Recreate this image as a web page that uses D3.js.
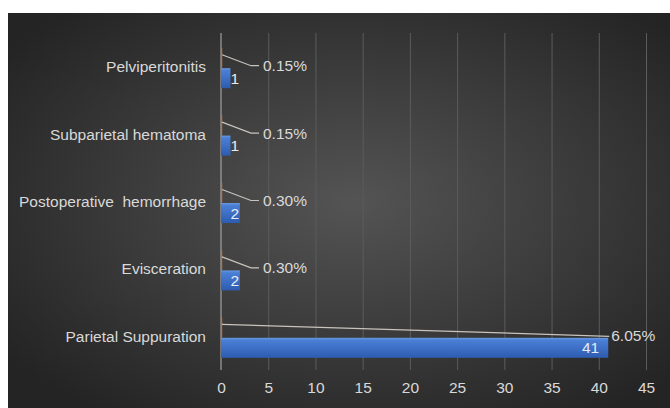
<!DOCTYPE html>
<meta charset="utf-8">
<style>
body { margin: 0; background: #fff; }
svg { display: block; }
text {
  font-family: 'Liberation Sans', 'DejaVu Sans', sans-serif;
  font-size: 15.5px;
  fill: #d9d9d9;
}
.cat-label { text-anchor: end; white-space: pre; }
.grid line { stroke: #5c5c5c; stroke-width: 1px; }
.grid path { stroke: none; }
.axis path, .axis line { stroke: none; }
.zero-line { stroke: #b5b5b5; stroke-width: 1px; }
.leader { fill: none; stroke: #c9c3bd; stroke-width: 1.2px; }
.pct-bar { fill: #c8743a; opacity: 0.75; }
.val-label { fill: #e6ecf5; text-anchor: end; }
</style>
<body>
<svg width="670" height="408"></svg>
<script src="https://d3js.org/d3.v7.min.js"></script>
<script>
// values
var categories = ["Pelviperitonitis", "Subparietal hematoma", "Postoperative  hemorrhage", "Evisceration", "Parietal Suppuration"];
var counts = [1, 1, 2, 2, 41];
var percents = [0.0015, 0.0015, 0.0030, 0.0030, 0.0605];
var xTicks = [0, 5, 10, 15, 20, 25, 30, 35, 40, 45];

var data = categories.map(function(c, i) {
  return {cat: c, count: counts[i], pct: percents[i]};
});

var svg = d3.select("svg");
var defs = svg.append("defs");

// background
var bg = defs.append("radialGradient").attr("id", "bg")
    .attr("cx", "52%").attr("cy", "48%").attr("r", "65%");
bg.append("stop").attr("offset", "0%").attr("stop-color", "#545454");
bg.append("stop").attr("offset", "100%").attr("stop-color", "#242424");

var bar = defs.append("linearGradient").attr("id", "bar")
    .attr("x1", 0).attr("y1", 0).attr("x2", 0).attr("y2", 1);
bar.append("stop").attr("offset", "0%").attr("stop-color", "#6b98e3");
bar.append("stop").attr("offset", "12%").attr("stop-color", "#4a7fd6");
bar.append("stop").attr("offset", "100%").attr("stop-color", "#2d5cb0");

svg.append("rect")
    .attr("x", 8).attr("y", 13)
    .attr("width", 662).attr("height", 395)
    .attr("fill", "url(#bg)");

var x = d3.scaleLinear().domain([0, 45]).range([221, 646]);
var y = d3.scaleBand().domain(categories).range([33, 370]);

// vertical gridlines
svg.append("g")
    .attr("class", "grid")
    .attr("transform", "translate(0,370)")
    .call(d3.axisBottom(x).tickValues(xTicks.slice(1)).tickSize(-(370 - 33)).tickFormat(""));

// tick labels
svg.append("g")
    .attr("class", "axis")
    .attr("transform", "translate(0,378)")
    .call(d3.axisBottom(x).tickValues(xTicks).tickSize(0).tickPadding(4))
    .selectAll("text")
    .style("font-size", "15.5px")
    .style("font-family", "'Liberation Sans', sans-serif")
    .attr("fill", "#d9d9d9");

// zero axis line
svg.append("line")
    .attr("class", "zero-line")
    .attr("x1", x(0)).attr("x2", x(0))
    .attr("y1", 33).attr("y2", 370);

// category labels
svg.selectAll(".cat-label")
    .data(data)
  .enter().append("text")
    .attr("class", "cat-label")
    .attr("x", x(0) - 15)
    .attr("y", function(d) { return y(d.cat) + y.bandwidth() / 2; })
    .attr("dy", "0.35em")
    .text(function(d) { return d.cat; });

var barH = 20;
var mid = function(d) { return y(d.cat) + y.bandwidth() / 2; };

// percentage series (near-zero bars)
svg.selectAll(".pct-bar")
    .data(data)
  .enter().append("rect")
    .attr("class", "pct-bar")
    .attr("x", x(0))
    .attr("y", function(d) { return mid(d) - barH + 1; })
    .attr("width", function(d) { return Math.max(x(d.pct) - x(0), 1.3); })
    .attr("height", barH);

// count bars
svg.selectAll(".count-bar")
    .data(data)
  .enter().append("rect")
    .attr("class", "count-bar")
    .attr("x", x(0))
    .attr("y", function(d) { return mid(d) + 1.5; })
    .attr("width", function(d) { return x(d.count) - x(0); })
    .attr("height", barH)
    .attr("fill", "url(#bar)");

// count labels
svg.selectAll(".val-label")
    .data(data)
  .enter().append("text")
    .attr("class", "val-label")
    .attr("x", function(d) { return Math.max(x(d.count) - 9, x(0) + 18); })
    .attr("y", function(d) { return mid(d) + 1.5 + barH / 2; })
    .attr("dy", "0.36em")
    .text(function(d) { return d.count; });

// percentage labels with leader lines
var labelX = function(d) { return Math.max(x(0) + 42, x(d.count) + 3); };

svg.selectAll(".leader")
    .data(data)
  .enter().append("path")
    .attr("class", "leader")
    .attr("d", function(d) {
      var lx = labelX(d), ly = mid(d) - 1, sy = mid(d) - 12;
      if (lx - x(d.count) < 10) {
        return "M" + (x(0) + 1) + "," + sy + "L" + (lx - 2) + "," + (ly + 1);
      }
      return "M" + (x(0) + 1) + "," + sy + "L" + (lx - 12) + "," + ly + "L" + (lx - 4) + "," + ly;
    });

svg.selectAll(".pct-label")
    .data(data)
  .enter().append("text")
    .attr("class", "pct-label")
    .attr("x", labelX)
    .attr("y", function(d) { return mid(d) - 1; })
    .attr("dy", "0.35em")
    .text(function(d) { return (d.pct * 100).toFixed(2) + "%"; });
</script>
